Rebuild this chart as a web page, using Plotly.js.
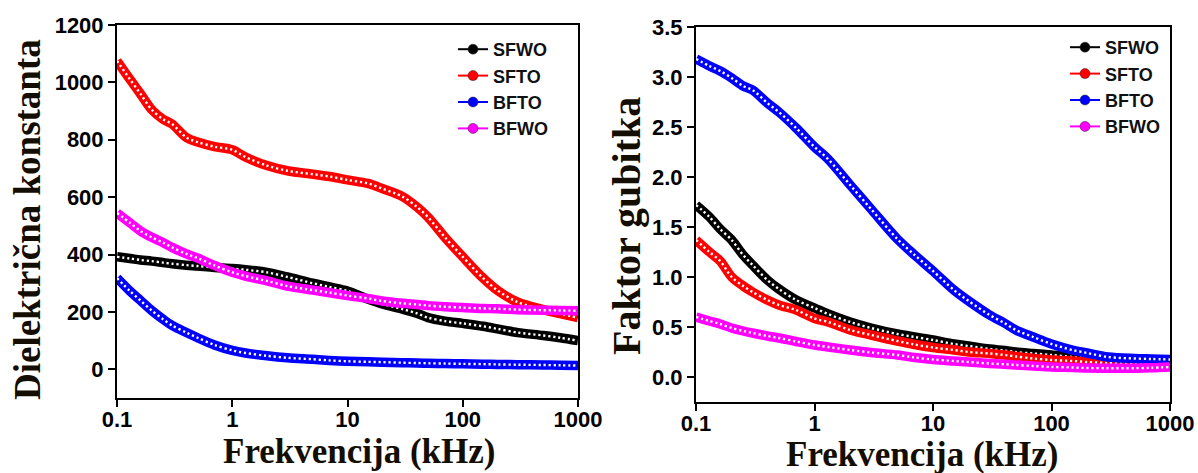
<!DOCTYPE html>
<html>
<head>
<meta charset="utf-8">
<script src="https://cdn.plot.ly/plotly-3.0.1.min.js"></script>
<style>html,body{margin:0;padding:0;background:#fff;}#chart{width:1198px;height:473px;}</style>
</head>
<body>
<div id="chart"></div>
<script>
// Frequencies (kHz)
const freq = [0.1, 0.13, 0.16, 0.2, 0.25, 0.3, 0.4, 0.5, 0.7, 1, 1.3, 2, 3, 5, 7, 10, 15, 20, 30, 40, 50, 70, 100, 150, 200, 300, 500, 700, 1000];

const seriesNames = ['SFWO', 'SFTO', 'BFTO', 'BFWO'];
const seriesColors = ['#000000', '#ff0000', '#0000ff', '#ff00ff'];

// Left panel: dielectric constant
const epsSFWO = [392, 386, 381, 377, 372, 368, 363, 360, 355, 351, 347, 338, 322, 300, 287, 273, 245, 228, 210, 195, 180, 168, 160, 150, 141, 128, 118, 110, 100];
const epsSFTO = [1075, 1010, 960, 905, 872, 855, 808, 792, 776, 765, 740, 710, 692, 680, 672, 660, 648, 630, 602, 566, 530, 460, 392, 318, 275, 234, 208, 194, 180];
const epsBFTO = [318, 272, 240, 205, 175, 153, 128, 110, 85, 66, 57, 47, 40, 35, 31, 28, 26, 25, 23, 22, 21, 20, 19, 18, 17, 16, 15, 14, 13];
const epsBFWO = [545, 510, 482, 460, 442, 425, 402, 388, 362, 338, 325, 308, 290, 276, 267, 257, 247, 238, 230, 226, 222, 218, 215, 212, 211, 208, 206, 205, 204];

// Right panel: loss factor
const tanSFWO = [1.72, 1.60, 1.48, 1.37, 1.22, 1.12, 0.97, 0.88, 0.77, 0.69, 0.63, 0.55, 0.49, 0.43, 0.40, 0.37, 0.33, 0.31, 0.28, 0.265, 0.25, 0.235, 0.22, 0.20, 0.19, 0.175, 0.16, 0.145, 0.13];
const tanSFTO = [1.37, 1.25, 1.16, 1.00, 0.91, 0.85, 0.77, 0.72, 0.67, 0.585, 0.55, 0.47, 0.42, 0.36, 0.325, 0.295, 0.27, 0.25, 0.235, 0.22, 0.205, 0.185, 0.17, 0.16, 0.15, 0.14, 0.13, 0.125, 0.12];
const tanBFTO = [3.18, 3.11, 3.06, 2.99, 2.91, 2.87, 2.74, 2.65, 2.49, 2.30, 2.18, 1.92, 1.68, 1.38, 1.22, 1.06, 0.87, 0.76, 0.62, 0.54, 0.47, 0.40, 0.33, 0.27, 0.24, 0.20, 0.185, 0.18, 0.175];
const tanBFWO = [0.60, 0.56, 0.53, 0.49, 0.46, 0.44, 0.41, 0.39, 0.355, 0.32, 0.30, 0.27, 0.245, 0.22, 0.195, 0.175, 0.16, 0.15, 0.135, 0.127, 0.12, 0.11, 0.10, 0.095, 0.09, 0.088, 0.088, 0.092, 0.10];

// Tick labels
const xTickVals = [0.1, 1, 10, 100, 1000];
const xTickText = ['0.1', '1', '10', '100', '1000'];

const xTitle = 'Frekvencija (kHz)';
const yTitleLeft = 'Dielektrična konstanta';
const yTitleRight = 'Faktor gubitka';

const leftData = [epsSFWO, epsSFTO, epsBFTO, epsBFWO];
const rightData = [tanSFWO, tanSFTO, tanBFTO, tanBFWO];

const traces = [];
function addPanel(dataSets, xa, ya, legendId) {
  dataSets.forEach((ys, i) => {
    traces.push({
      x: freq, y: ys, xaxis: xa, yaxis: ya, type: 'scatter', mode: 'lines',
      line: {color: seriesColors[i], width: 9.5, shape: 'spline', smoothing: 0.9},
      showlegend: false, hoverinfo: 'skip'
    });
    traces.push({
      x: freq, y: ys, xaxis: xa, yaxis: ya, type: 'scatter', mode: 'lines',
      line: {color: '#ffffff', width: 2.4, dash: '2.2px,2.8px', shape: 'spline', smoothing: 0.9},
      showlegend: false, hoverinfo: 'skip'
    });
  });
  dataSets.forEach((ys, i) => {
    traces.push({
      x: [freq[0]], y: [null], xaxis: xa, yaxis: ya, type: 'scatter', mode: 'lines+markers',
      name: seriesNames[i], legend: legendId,
      line: {color: seriesColors[i], width: 2},
      marker: {color: seriesColors[i], size: 10, line: {color: '#222', width: 0.5}}
    });
  });
}
addPanel(leftData, 'x', 'y', 'legend');
addPanel(rightData, 'x2', 'y2', 'legend2');

const W = 1198, H = 473;
const px = v => v / W;
const py = v => 1 - v / H;

const axBase = {
  showline: true, linewidth: 2, linecolor: '#000', mirror: true,
  ticks: 'outside', ticklen: 7, tickwidth: 2, tickcolor: '#000',
  showgrid: false, zeroline: false
};
const tickFontL = {family: 'Arial, "Liberation Sans", sans-serif', size: 22, color: '#000', weight: 'bold'};
const tickFontR = {family: 'Arial, "Liberation Sans", sans-serif', size: 22, color: '#000', weight: 'bold'};
const titleFamily = '"Times New Roman", "Liberation Serif", serif';
const titleColor = '#140d02';

const layout = {
  width: W, height: H,
  margin: {l: 0, r: 0, t: 0, b: 0},
  paper_bgcolor: '#fff', plot_bgcolor: '#fff',
  xaxis: Object.assign({}, axBase, {
    type: 'log', range: [-1, 3], domain: [px(117), px(578)], anchor: 'y',
    tickvals: xTickVals, ticktext: xTickText, tickfont: tickFontL, ticklabelstandoff: -6
  }),
  yaxis: Object.assign({}, axBase, {
    range: [-100, 1200], tick0: 0, dtick: 200, domain: [py(398), py(25)], anchor: 'x',
    tickfont: tickFontL
  }),
  xaxis2: Object.assign({}, axBase, {
    type: 'log', range: [-1, 3], domain: [px(696), px(1170)], anchor: 'y2',
    tickvals: xTickVals, ticktext: xTickText, tickfont: tickFontR, ticklabelstandoff: -6
  }),
  yaxis2: Object.assign({}, axBase, {
    range: [-0.25, 3.5], tick0: 0, dtick: 0.5, tickformat: '.1f', domain: [py(402), py(27)], anchor: 'x2',
    tickfont: tickFontR
  }),
  legend: {
    x: px(453), y: py(31), xanchor: 'left', yanchor: 'top', bgcolor: 'rgba(0,0,0,0)',
    font: {family: 'Arial, "Liberation Sans", sans-serif', size: 18, color: '#111', weight: 'bold'},
    borderwidth: 0
  },
  legend2: {
    x: px(1065), y: py(29), xanchor: 'left', yanchor: 'top', bgcolor: 'rgba(0,0,0,0)',
    font: {family: 'Arial, "Liberation Sans", sans-serif', size: 18, color: '#111', weight: 'bold'},
    borderwidth: 0
  },
  annotations: [
    {text: yTitleLeft, xref: 'paper', yref: 'paper', x: px(28), y: py(220), textangle: -90,
     showarrow: false, xanchor: 'center', yanchor: 'middle',
     font: {family: titleFamily, size: 37, color: titleColor, weight: 'bold'}},
    {text: xTitle, xref: 'paper', yref: 'paper', x: px(359), y: py(451),
     showarrow: false, xanchor: 'center', yanchor: 'middle',
     font: {family: titleFamily, size: 35, color: titleColor, weight: 'bold'}},
    {text: yTitleRight, xref: 'paper', yref: 'paper', x: px(626), y: py(226), textangle: -90,
     showarrow: false, xanchor: 'center', yanchor: 'middle',
     font: {family: titleFamily, size: 40, color: titleColor, weight: 'bold'}},
    {text: xTitle, xref: 'paper', yref: 'paper', x: px(922), y: py(454),
     showarrow: false, xanchor: 'center', yanchor: 'middle',
     font: {family: titleFamily, size: 35, color: titleColor, weight: 'bold'}}
  ]
};

Plotly.newPlot('chart', traces, layout, {displayModeBar: false, staticPlot: true});
</script>
</body>
</html>
